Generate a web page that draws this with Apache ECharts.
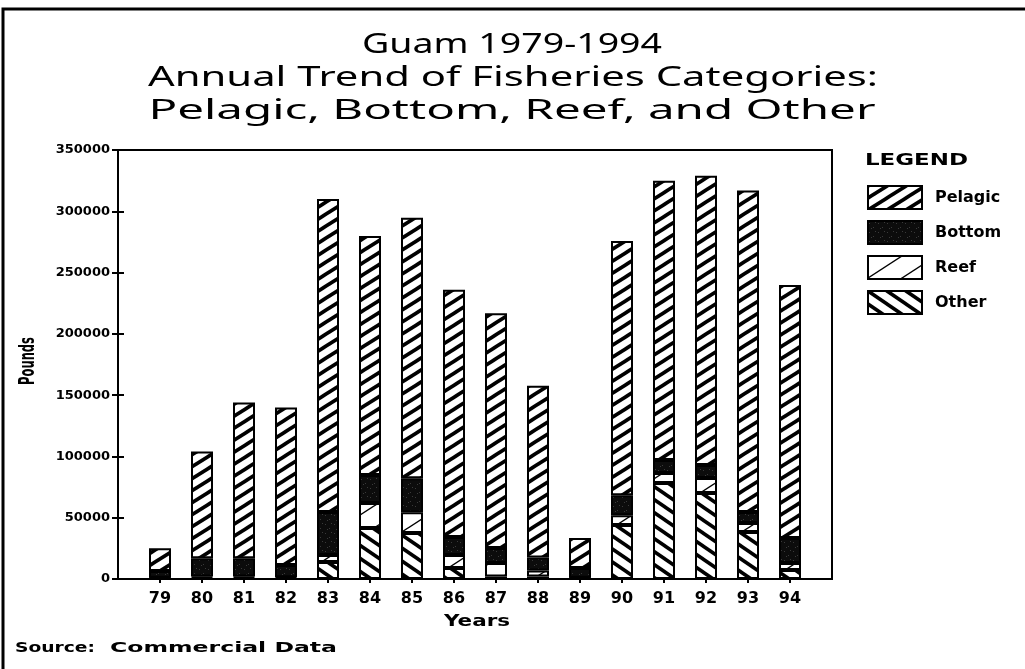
<!DOCTYPE html>
<html>
<head>
<meta charset="utf-8">
<title>Guam 1979-1994 Fisheries Categories</title>
<script src="https://cdn.jsdelivr.net/npm/echarts@6/dist/echarts.min.js"></script>
<style>
  html, body { margin: 0; padding: 0; background: #fff; }
  #chart { width: 1025px; height: 669px; }
</style>
</head>
<body>
<div id="chart"></div>
<script>
// Landings by year (pounds), one array per category
const years   = ['79','80','81','82','83','84','85','86','87','88','89','90','91','92','93','94'];
const pelagic = [18500, 87000, 127000, 128500, 255300, 195100, 212600, 201700, 191700, 140000, 24500, 207500, 227900, 236000, 262300, 206500];
const bottom  = [5500, 15000, 15000, 10000, 35100, 22800, 27700, 14700, 12200, 10600, 8000, 16300, 10600, 10600, 9000, 20400];
const reef    = [500, 1000, 1000, 1000, 5700, 20400, 17000, 10600, 11000, 5000, 500, 8000, 8200, 12200, 7300, 5700];
const other   = [500, 1000, 1000, 500, 13900, 41600, 37500, 9000, 2000, 2000, 500, 44000, 78300, 70200, 38400, 7300];
const yTicks  = { min: 0, max: 350000, step: 50000 };

// Empty slots at both ends leave a free band before 79 and after 94
const axisCats = [''].concat(years, ['']);
const pad = arr => [null].concat(arr, [null]);

// ---- fill patterns ----
// Diagonal hatch tile; each stroke runs well past the tile so repeats join seamlessly
function stripeTile(w, h, lw, dir, bg, fg) {
  const c = document.createElement('canvas');
  c.width = w; c.height = h;
  const g = c.getContext('2d');
  g.fillStyle = bg; g.fillRect(0, 0, w, h);
  g.strokeStyle = fg; g.lineWidth = lw; g.lineCap = 'butt';
  for (const dx of [-w, 0, w]) {
    g.beginPath();
    if (dir > 0) { g.moveTo(dx - w, 2 * h); g.lineTo(dx + 2 * w, -h); }
    else { g.moveTo(dx - w, -h); g.lineTo(dx + 2 * w, 2 * h); }
    g.stroke();
  }
  return { image: c, repeat: 'repeat' };
}
function stippleTile() {
  const c = document.createElement('canvas');
  c.width = 9; c.height = 9;
  const g = c.getContext('2d');
  g.fillStyle = '#0c0c0c'; g.fillRect(0, 0, 9, 9);
  g.fillStyle = '#3a3a3a';
  [[1,2],[5,6],[7,1],[3,7]].forEach(p => g.fillRect(p[0], p[1], 1, 1));
  return { image: c, repeat: 'repeat' };
}
const fillPelagic = stripeTile(19, 12, 3.6, 1, '#fff', '#000');
const fillOther   = stripeTile(19, 13, 3.6, -1, '#fff', '#000');
const fillReef    = stripeTile(34, 22, 1.4, 1, '#fff', '#000');
const fillBottom  = stippleTile();

// ---- text helpers (wide lettering via horizontal scale) ----
const measureCtx = document.createElement('canvas').getContext('2d');
function wideText(text, x, y, font, width, align, extra) {
  measureCtx.font = font;
  const w = measureCtx.measureText(text).width;
  return Object.assign({
    type: 'text', x: x, y: y, scaleX: width / w, z: 10,
    style: { text: text, font: font, fill: '#000', textAlign: align || 'left', textVerticalAlign: 'middle' }
  }, extra || {});
}

const BOLD = "'DejaVu Sans', 'Liberation Sans', sans-serif";
const THIN = "'Noto Sans', 'DejaVu Sans', sans-serif";

function barSeries(name, data, fill) {
  return {
    name: name, type: 'bar', stack: 'total', data: pad(data), barWidth: 22,
    itemStyle: { color: fill, borderColor: '#000', borderWidth: 2 },
    emphasis: { disabled: true }
  };
}

const chart = echarts.init(document.getElementById('chart'), null, { renderer: 'canvas' });
chart.setOption({
  animation: false,
  backgroundColor: '#fff',
  grid: { left: 118, right: 193, top: 150, bottom: 90, show: true, borderColor: '#000', borderWidth: 2 },
  legend: {
    orient: 'vertical', left: 862, top: 180,
    data: ['Pelagic', 'Bottom', 'Reef', 'Other'],
    icon: 'rect', itemWidth: 54, itemHeight: 23, itemGap: 10,
    selectedMode: false,
    textStyle: { fontFamily: BOLD, fontWeight: 'bold', fontSize: 16, color: '#000', padding: [0, 0, 0, 8] }
  },
  xAxis: {
    type: 'category', data: axisCats, boundaryGap: false,
    axisLine: { lineStyle: { color: '#000', width: 2 } },
    axisTick: { length: 4, lineStyle: { color: '#000', width: 2 }, interval: i => i > 0 && i < axisCats.length - 1 },
    axisLabel: { interval: 0, margin: 12, fontFamily: BOLD, fontWeight: 'bold', fontSize: 16, color: '#000' },
    splitLine: { show: false }
  },
  yAxis: [{
    type: 'value', min: yTicks.min, max: yTicks.max, interval: yTicks.step,
    axisLine: { show: true, lineStyle: { color: '#000', width: 2 } },
    axisTick: { show: true, length: 6, lineStyle: { color: '#000', width: 2 } },
    axisLabel: { margin: 8, fontFamily: BOLD, fontWeight: 'bold', fontSize: 13, color: '#000', formatter: v => String(v) },
    splitLine: { show: false }
  }, {
    // inner half of the cross-shaped ticks
    type: 'value', position: 'left', min: yTicks.min, max: yTicks.max, interval: yTicks.step,
    axisLine: { show: false },
    axisTick: { show: true, inside: true, length: 6, lineStyle: { color: '#000', width: 2 } },
    axisLabel: { show: false },
    splitLine: { show: false }
  }],
  series: [
    barSeries('Other', other, fillOther),
    barSeries('Reef', reef, fillReef),
    barSeries('Bottom', bottom, fillBottom),
    barSeries('Pelagic', pelagic, fillPelagic)
  ],
  graphic: [
    { type: 'polyline', shape: { points: [[3, 669], [3, 9], [1025, 9]] }, style: { stroke: '#000', lineWidth: 3, fill: null } },
    wideText('Guam 1979-1994', 512, 45, `normal 28px ${THIN}`, 300, 'center'),
    wideText('Annual Trend of Fisheries Categories:', 513, 78, `normal 28px ${THIN}`, 730, 'center'),
    wideText('Pelagic, Bottom, Reef, and Other', 512, 111, `normal 28px ${THIN}`, 727, 'center'),
    wideText('Pounds', 29, 361, `bold 21px 'Liberation Sans Narrow', 'DejaVu Sans Condensed', 'Liberation Sans', sans-serif`, 48, 'center', { rotation: Math.PI / 2 }),
    wideText('Years', 477, 622, `bold 16px ${BOLD}`, 66, 'center'),
    wideText('LEGEND', 865, 161, `bold 16px ${BOLD}`, 103, 'left'),
    wideText('Source:', 15, 648, `bold 14px ${BOLD}`, 80, 'left'),
    wideText('Commercial Data', 110, 648, `bold 14px ${BOLD}`, 227, 'left')
  ]
});
</script>
</body>
</html>
